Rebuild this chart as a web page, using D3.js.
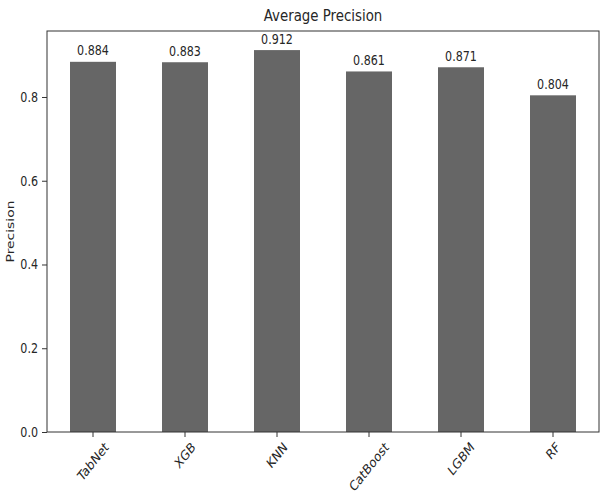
<!DOCTYPE html>
<html>
<head>
<meta charset="utf-8">
<script src="https://cdn.jsdelivr.net/npm/d3@7"></script>
<style>
  html, body { margin: 0; padding: 0; background: #fff; }
  svg { display: block; }
  text { font-family: "DejaVu Sans", sans-serif; fill: #262626; }
</style>
</head>
<body>
<svg id="chart" width="600" height="495"></svg>
<script>
// Average precision per model
const models = ["TabNet", "XGB", "KNN", "CatBoost", "LGBM", "RF"];
const precision = [0.884, 0.883, 0.912, 0.861, 0.871, 0.804];
const yTicks = [0.0, 0.2, 0.4, 0.6, 0.8];
const chartTitle = "Average Precision";
const yTitle = "Precision";

const W = 600, H = 495;
const plot = { left: 47, right: 599, top: 31, bottom: 432 };
const squeeze = 0.8;          // horizontal text compression
const barColor = "#666666";
const axisColor = "#333333";

const svg = d3.select("#chart");

const x = d3.scaleBand()
  .domain(models)
  .range([plot.left, plot.right])
  .paddingInner(0.5)
  .paddingOuter(0.25);

const yMax = d3.max(precision) * 1.05;
const y = d3.scaleLinear()
  .domain([0, yMax])
  .range([plot.bottom, plot.top]);

// bars
svg.append("g")
  .selectAll("rect")
  .data(models.map((m, i) => ({ m, v: precision[i] })))
  .join("rect")
  .attr("x", d => x(d.m))
  .attr("y", d => y(d.v))
  .attr("width", x.bandwidth())
  .attr("height", d => y(0) - y(d.v))
  .attr("fill", barColor);

// value labels above bars
svg.append("g")
  .selectAll("g")
  .data(models.map((m, i) => ({ m, v: precision[i] })))
  .join("g")
  .attr("transform", d => `translate(${x(d.m) + x.bandwidth() / 2},${y(d.v) - 6.5}) scale(${squeeze},1)`)
  .append("text")
  .attr("text-anchor", "middle")
  .attr("font-size", 13.9)
  .text(d => d3.format(".3f")(d.v));

// frame
svg.append("rect")
  .attr("x", plot.left)
  .attr("y", plot.top)
  .attr("width", plot.right - plot.left)
  .attr("height", plot.bottom - plot.top)
  .attr("fill", "none")
  .attr("stroke", axisColor)
  .attr("stroke-width", 1);

// y axis
const yAxis = svg.append("g")
  .attr("transform", `translate(${plot.left},0)`)
  .call(d3.axisLeft(y).tickValues(yTicks).tickFormat(d3.format(".1f")).tickSize(5).tickPadding(4));
yAxis.select(".domain").remove();
yAxis.selectAll(".tick line").attr("stroke", axisColor);
yAxis.selectAll(".tick text")
  .attr("font-size", 13.9)
  .attr("font-family", "DejaVu Sans, sans-serif")
  .attr("fill", "#262626")
  .attr("transform", function () {
    const tx = +d3.select(this).attr("x");
    return `translate(${tx},0) scale(${squeeze},1) translate(${-tx},0)`;
  });

// x axis ticks
const xAxis = svg.append("g")
  .attr("transform", `translate(0,${plot.bottom})`)
  .call(d3.axisBottom(x).tickSize(5).tickFormat(""));
xAxis.select(".domain").remove();
xAxis.selectAll(".tick line").attr("stroke", axisColor);

// rotated category labels, bounding box centred under each tick
const labelTop = plot.bottom + 9;
const fs = 13.9;
const labels = svg.append("g")
  .selectAll("g")
  .data(models)
  .join("g")
  .attr("transform", d => `translate(${x(d) + x.bandwidth() / 2},${labelTop}) scale(${squeeze},1)`);
labels.append("text")
  .attr("text-anchor", "middle")
  .attr("dy", "0.35em")
  .attr("font-size", fs)
  .text(d => d)
  .each(function () {
    const w = this.getComputedTextLength();
    const h = fs * 0.75;
    const off = (w + h) / (2 * Math.SQRT2);
    d3.select(this).attr("transform", `translate(0,${off}) rotate(-45)`);
  });

// title
svg.append("g")
  .attr("transform", `translate(${(plot.left + plot.right) / 2},${plot.top - 10}) scale(${squeeze},1)`)
  .append("text")
  .attr("text-anchor", "middle")
  .attr("font-size", 16.7)
  .text(chartTitle);

// y axis title
svg.append("g")
  .attr("transform", `translate(14,${(plot.top + plot.bottom) / 2}) scale(${squeeze},1)`)
  .append("text")
  .attr("text-anchor", "middle")
  .attr("transform", "rotate(-90)")
  .attr("font-size", 13.9)
  .text(yTitle);
</script>
</body>
</html>
